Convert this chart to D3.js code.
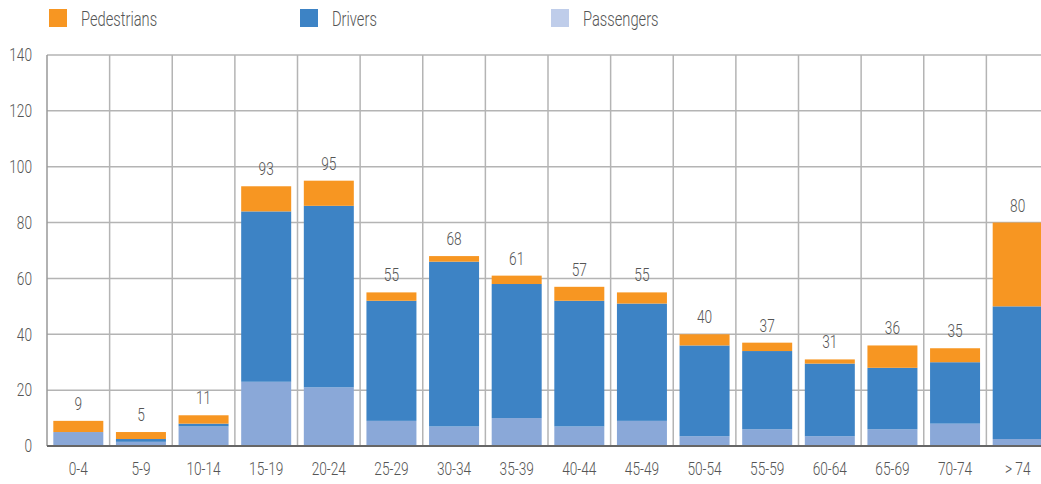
<!DOCTYPE html>
<html><head><meta charset="utf-8">
<script src="https://cdn.jsdelivr.net/npm/d3@7"></script>
<style>
body{margin:0;background:#fff;}
svg text{font-family:Roboto,"Liberation Sans",sans-serif;font-weight:300;fill:#555;}
</style></head><body>
<svg id="chart" width="1041" height="484"></svg>
<script>
const categories = ["0-4","5-9","10-14","15-19","20-24","25-29","30-34","35-39","40-44","45-49","50-54","55-59","60-64","65-69","70-74","> 74"];
const passengers = [5,1.5,7,23,21,9,7,10,7,9,3.5,6,3.5,6,8,2.5];
const drivers =    [0,1,1,61,65,43,59,48,45,42,32.5,28,26,22,22,47.5];
const pedestrians =[4,2.5,3,9,9,3,2,3,5,4,4,3,1.5,8,5,30];
const totals = [9,5,11,93,95,55,68,61,57,55,40,37,31,36,35,80];
const yTicks = [0,20,40,60,80,100,120,140];
const seriesNames = ["Pedestrians","Drivers","Passengers"];

(function(){
const colors = {Passengers:"#8aa8d8", Drivers:"#3d83c5", Pedestrians:"#f79622"};
const legendColors = {Passengers:"#bfcdea", Drivers:"#3d83c5", Pedestrians:"#f79622"};
const S = 0.76;   // horizontal condensation of text
const SL = 0.7;

const svg = d3.select("#chart");
const pL = 47, pR = 1049, pT = 55, pB = 446;
const x = d3.scaleBand().domain(categories).range([pL,pR]).paddingInner(0.2).paddingOuter(0.1);
const y = d3.scaleLinear().domain([0,140]).range([pB,pT]);

svg.append("defs").append("clipPath").attr("id","c").append("rect").attr("x",0).attr("y",0).attr("width",1041).attr("height",484);
const g = svg.append("g").attr("clip-path","url(#c)");

g.selectAll(".hg").data(yTicks.filter(d=>d>0)).enter().append("line")
  .attr("x1",pL).attr("x2",1041).attr("y1",d=>y(d)).attr("y2",d=>y(d))
  .attr("stroke","#b4b4b4").attr("stroke-width",1.5);
const bounds = d3.range(1,categories.length).map(i=>pL + i*(pR-pL)/categories.length);
g.selectAll(".vg").data(bounds).enter().append("line")
  .attr("x1",d=>d).attr("x2",d=>d).attr("y1",pT).attr("y2",pB)
  .attr("stroke","#b4b4b4").attr("stroke-width",1.5);

const table = categories.map((c,i)=>({cat:c, Passengers:passengers[i], Drivers:drivers[i], Pedestrians:pedestrians[i]}));
const stack = d3.stack().keys(["Passengers","Drivers","Pedestrians"])(table);
const barW = 50;
stack.forEach(layer=>{
  g.selectAll(null).data(layer).enter().append("rect")
    .attr("x",d=>x(d.data.cat)+x.bandwidth()/2-barW/2)
    .attr("width",barW)
    .attr("y",d=>y(d[1]))
    .attr("height",d=>Math.max(0,y(d[0])-y(d[1])))
    .attr("fill",colors[layer.key]);
});

g.selectAll(".tl").data(categories).enter().append("text")
  .attr("transform",`scale(${S},1)`)
  .attr("x",d=>(x(d)+x.bandwidth()/2)/S)
  .attr("y",(d,i)=>y(totals[i])-11)
  .attr("text-anchor","middle").attr("font-size",18)
  .text((d,i)=>totals[i]);

svg.append("line").attr("x1",pL).attr("x2",pL).attr("y1",pT).attr("y2",pB).attr("stroke","#999").attr("stroke-width",1.5);
svg.append("line").attr("x1",pL).attr("x2",1041).attr("y1",pB).attr("y2",pB).attr("stroke","#666").attr("stroke-width",2);

const yAxis = svg.append("g").attr("transform",`translate(${pL},0)`)
  .call(d3.axisLeft(y).tickValues(yTicks).tickSize(0).tickPadding(15));
yAxis.select(".domain").remove();
yAxis.selectAll("text").attr("font-size",18).attr("x",-15/S)
  .attr("transform",`scale(${S},1)`);

const xAxis = svg.append("g").attr("transform",`translate(0,${pB})`)
  .call(d3.axisBottom(x).tickSize(0).tickPadding(16));
xAxis.select(".domain").remove();
xAxis.selectAll("text").attr("font-size",18).attr("transform",`scale(${S},1)`);
xAxis.attr("font-family",null); yAxis.attr("font-family",null);

const legendX = [49,300,551];
const lg = svg.selectAll(".lg").data(seriesNames).enter().append("g")
  .attr("transform",(d,i)=>`translate(${legendX[i]},9)`);
lg.append("rect").attr("width",18).attr("height",18).attr("fill",d=>legendColors[d]);
lg.append("text").attr("transform",`scale(${SL},1)`).attr("x",32/SL).attr("y",17).attr("font-size",21).text(d=>d);
})();
</script>
</body></html>
